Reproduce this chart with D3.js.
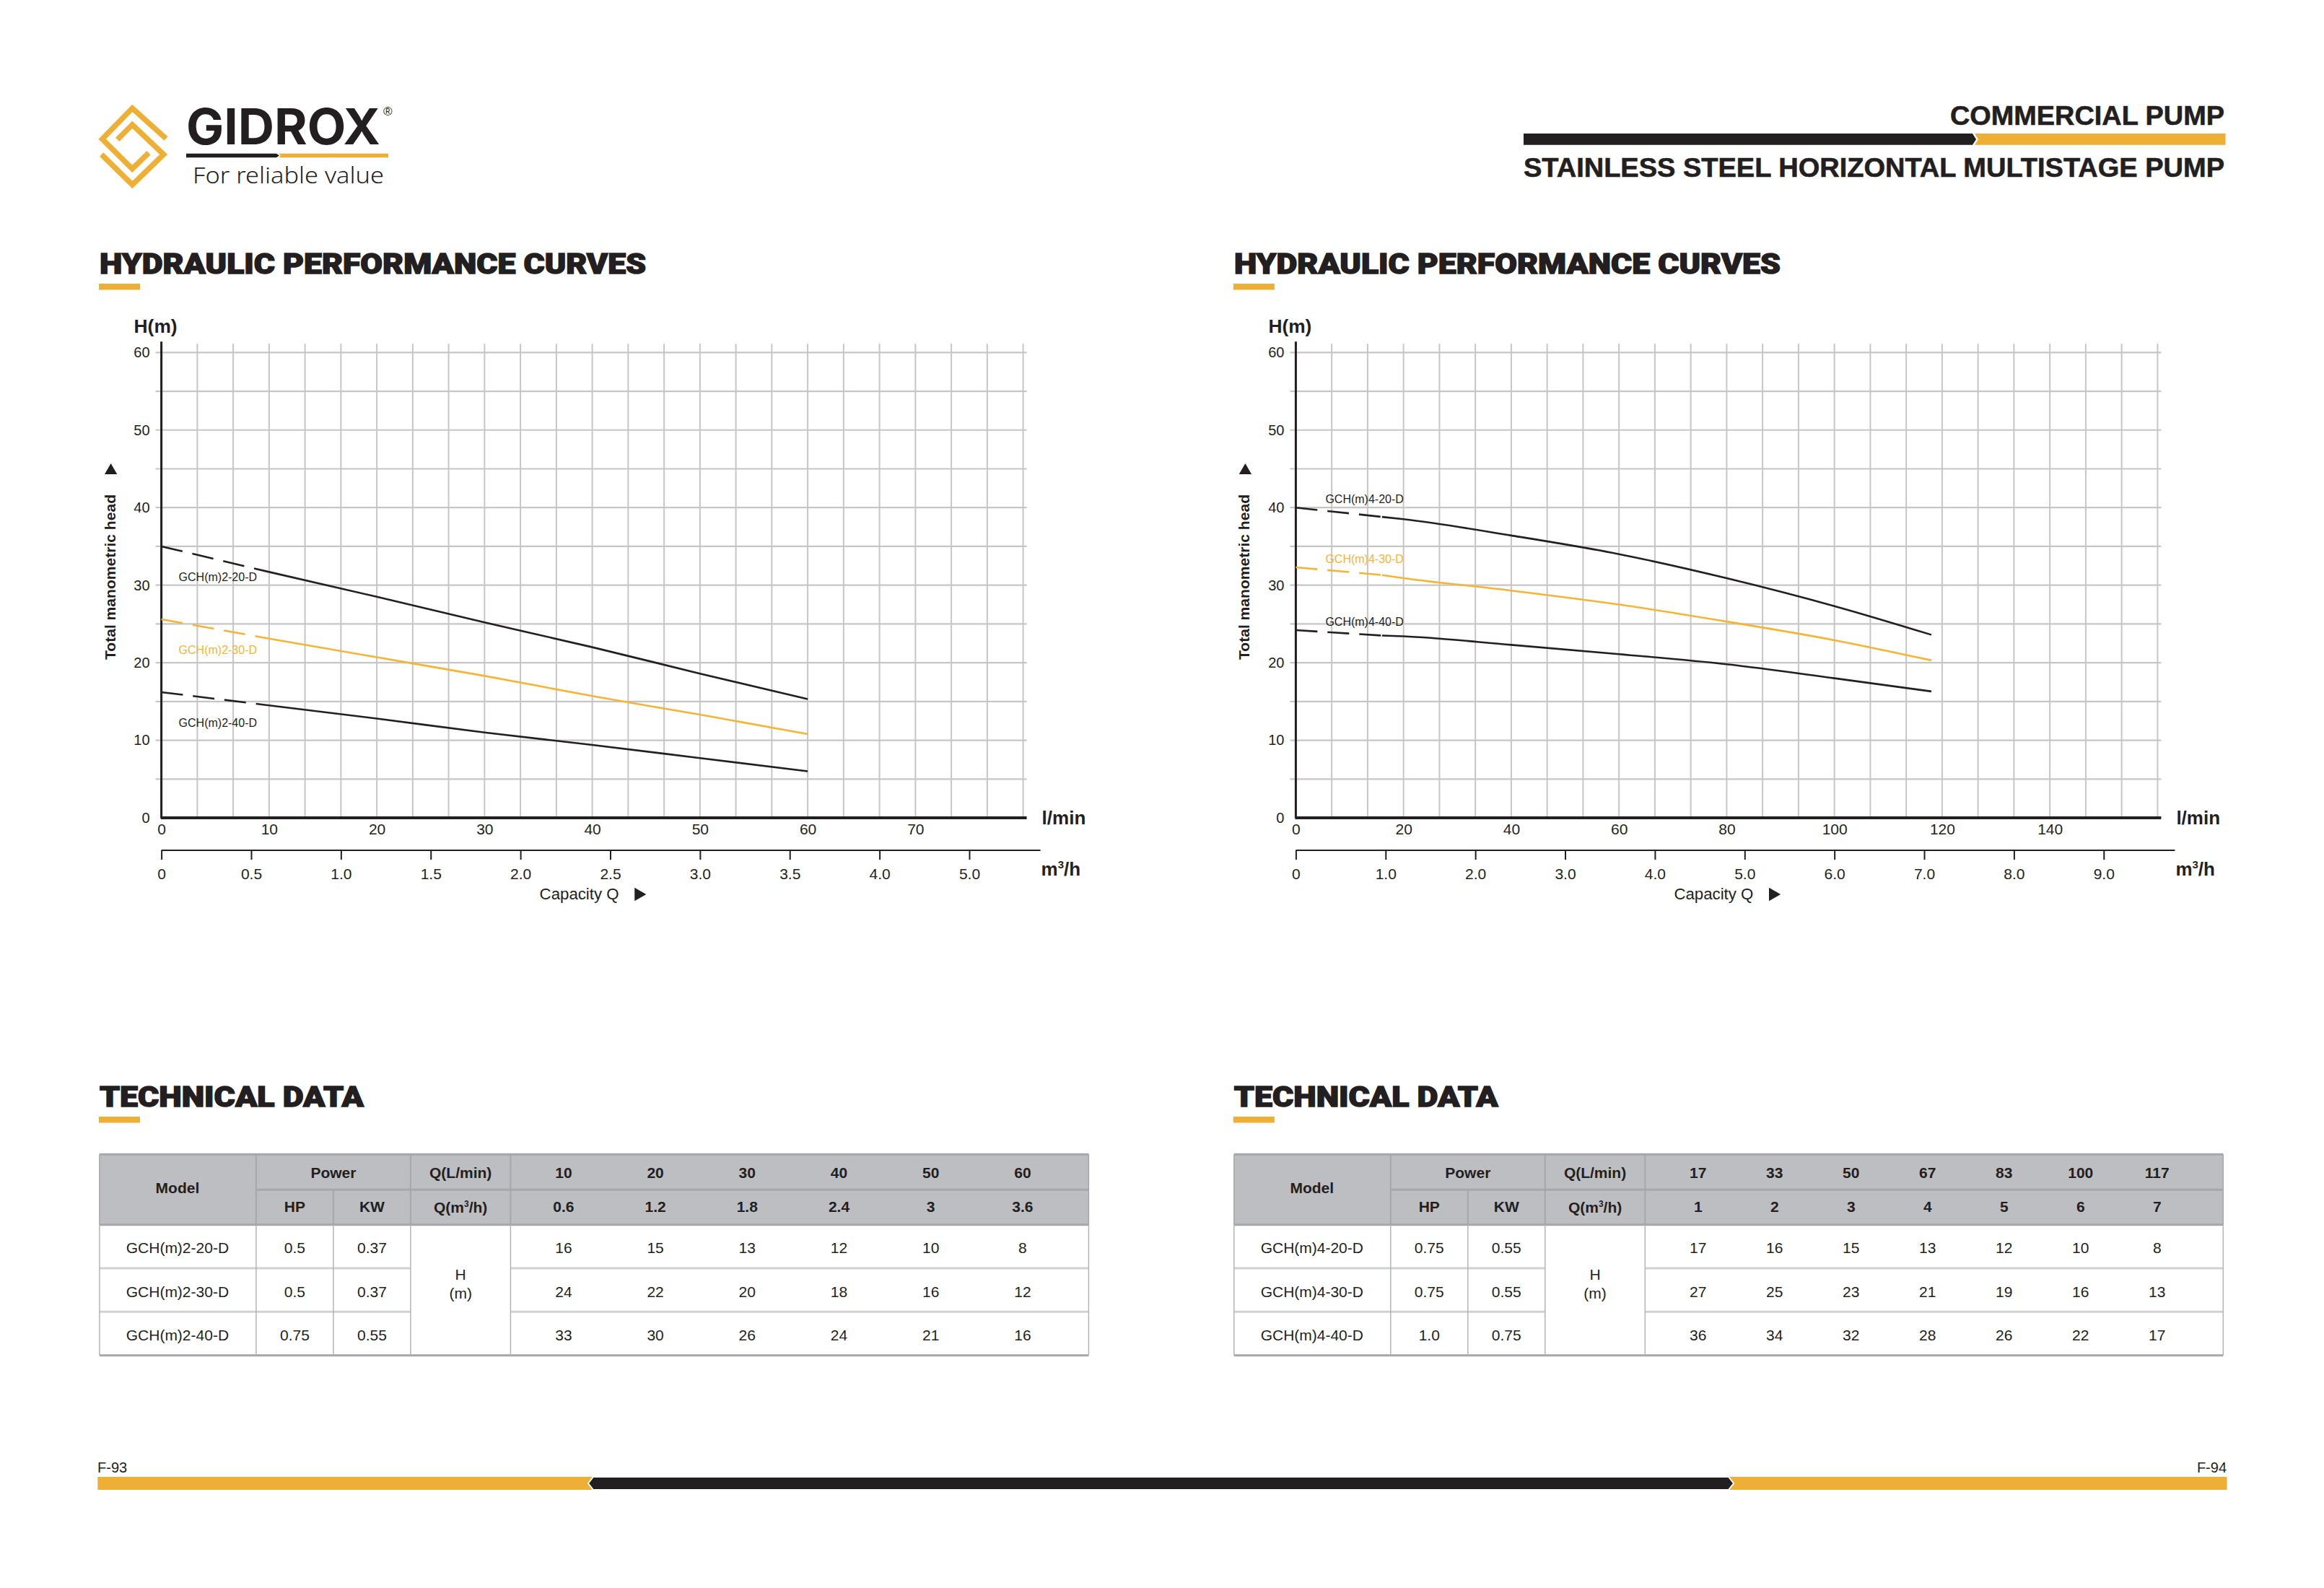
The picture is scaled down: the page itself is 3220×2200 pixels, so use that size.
<!DOCTYPE html>
<html>
<head>
<meta charset="utf-8">
<script src="https://cdn.jsdelivr.net/npm/d3@7"></script>
<style>
  body { margin: 0; background: #fff; }
  text { font-family: "Liberation Sans", Arial, sans-serif; fill: #231f20; }
</style>
</head>
<body>
<svg id="page" width="3220" height="2200"></svg>
<script>
// ---- chart data (read from the catalogue page) ----
var headTicks = [0, 10, 20, 30, 40, 50, 60];

// left page: GCH(m)2 series, flow in l/min, head in m
var flowA = [0, 10, 20, 30, 40, 50, 60];
var modelsA = ["GCH(m)2-20-D", "GCH(m)2-30-D", "GCH(m)2-40-D"];
var headA20 = [35.0, 31.7, 28.5, 25.2, 22.0, 18.6, 15.3];
var headA30 = [25.6, 23.1, 20.7, 18.3, 15.7, 13.3, 10.8];
var headA40 = [16.2, 14.5, 12.8, 11.0, 9.4, 7.7, 6.0];
var lminTicksA = [0, 10, 20, 30, 40, 50, 60, 70];
var m3hTicksA = [0, 0.5, 1.0, 1.5, 2.0, 2.5, 3.0, 3.5, 4.0, 4.5];
var m3hLabelsA = ["0", "0.5", "1.0", "1.5", "2.0", "2.5", "3.0", "3.5", "4.0", "5.0"];

// right page: GCH(m)4 series
var flowB = [0, 16, 20, 40, 60, 80, 100, 118];
var modelsB = ["GCH(m)4-20-D", "GCH(m)4-30-D", "GCH(m)4-40-D"];
var headB20 = [40.0, 38.8, 38.5, 36.4, 34.0, 30.9, 27.3, 23.6];
var headB30 = [32.3, 31.3, 30.9, 29.3, 27.5, 25.3, 22.9, 20.3];
var headB40 = [24.2, 23.5, 23.4, 22.3, 21.1, 19.8, 18.0, 16.3];
var lminTicksB = [0, 20, 40, 60, 80, 100, 120, 140];
var m3hTicksB = [0, 1, 2, 3, 4, 5, 6, 7, 8, 9];
var m3hLabelsB = ["0", "1.0", "2.0", "3.0", "4.0", "5.0", "6.0", "7.0", "8.0", "9.0"];

// technical data tables
var tableLminA = ["10", "20", "30", "40", "50", "60"];
var tableM3hA = ["0.6", "1.2", "1.8", "2.4", "3", "3.6"];
var tableHpA = ["0.5", "0.5", "0.75"];
var tableKwA = ["0.37", "0.37", "0.55"];
var tableHeadA = [[16, 15, 13, 12, 10, 8], [24, 22, 20, 18, 16, 12], [33, 30, 26, 24, 21, 16]];

var tableLminB = ["17", "33", "50", "67", "83", "100", "117"];
var tableM3hB = ["1", "2", "3", "4", "5", "6", "7"];
var tableHpB = ["0.75", "0.75", "1.0"];
var tableKwB = ["0.55", "0.55", "0.75"];
var tableHeadB = [[17, 16, 15, 13, 12, 10, 8], [27, 25, 23, 21, 19, 16, 13], [36, 34, 32, 28, 26, 22, 17]];

var INK = "#231f20", GOLD = "#edb035", LINE_GOLD = "#f4b536", GRID = "#c6c6c6";

var svg = d3.select("#page");
svg.append("rect").attr("width", 3220).attr("height", 2200).attr("fill", "#fff");

// ---- page header ----
// logo mark: two interlocking open diamonds
var logo = svg.append("g").attr("fill", "none").attr("stroke", GOLD)
    .attr("stroke-width", 7.5).attr("stroke-linejoin", "miter");
logo.append("path").attr("d", "M230,192 L183.3,150 L141.7,192.7 L183.3,234 L206,211.7");
logo.append("path").attr("d", "M140.7,214 L183.3,256 L226.7,214 L183.3,172.7 L162.7,193.3");
svg.append("text").attr("x", 258).attr("y", 200).attr("textLength", 269)
    .attr("lengthAdjust", "spacingAndGlyphs")
    .style("font-family", "Inter, 'Open Sans', sans-serif").style("font-weight", 700)
    .style("font-size", "69px").text("GIDROX");
svg.append("text").attr("x", 531).attr("y", 160).style("font-size", "17px").text("®");
svg.append("path").attr("fill", INK).attr("d", "M258,212.7 L383,212.7 L387,215.5 L383,218.3 L258,218.3 Z");
svg.append("path").attr("fill", GOLD).attr("d", "M386,212.7 L538,212.7 L538,218.3 L386,218.3 L389,215.5 Z");
svg.append("text").attr("x", 267).attr("y", 254).attr("textLength", 265)
    .attr("lengthAdjust", "spacingAndGlyphs")
    .style("font-family", "'Noto Sans', sans-serif").style("font-weight", 300)
    .style("font-size", "32px").text("For reliable value");

svg.append("text").attr("x", 3082).attr("y", 173).attr("text-anchor", "end")
    .attr("textLength", 380).attr("lengthAdjust", "spacingAndGlyphs")
    .style("font-weight", 700).style("font-size", "36px")
    .style("stroke", INK).style("stroke-width", 0.6).text("COMMERCIAL  PUMP");
svg.append("path").attr("fill", INK).attr("d", "M2111,185 L2733,185 L2738,193 L2733,200.7 L2111,200.7 Z");
svg.append("path").attr("fill", GOLD).attr("d", "M2736,185 L3083.5,185 L3083.5,200.7 L2736,200.7 L2741,193 Z");
svg.append("text").attr("x", 2111).attr("y", 245).attr("textLength", 971)
    .attr("lengthAdjust", "spacingAndGlyphs")
    .style("font-weight", 700).style("font-size", "37px")
    .style("stroke", INK).style("stroke-width", 0.6)
    .text("STAINLESS STEEL HORIZONTAL  MULTISTAGE  PUMP");

// section heading with gold underline
function heading(x, y, label, len) {
    svg.append("text").attr("x", x).attr("y", y).attr("textLength", len)
        .attr("lengthAdjust", "spacingAndGlyphs")
        .style("font-family", "Roboto, 'Liberation Sans', sans-serif")
        .style("font-weight", 900).style("font-size", "38px")
        .style("stroke", INK).style("stroke-width", 1.4).text(label);
    svg.append("rect").attr("x", x - 1).attr("y", y + 14).attr("width", 57).attr("height", 8.5)
        .attr("fill", GOLD);
}

// ---- performance charts ----
var W = 1194;
var y = d3.scaleLinear().domain([0, 60]).range([1133, 488.3]);

var charts = [
    { ox: 223.6, lminMax: 80, flow: flowA, dashTo: 10, models: modelsA,
      heads: [headA20, headA30, headA40], lminTicks: lminTicksA,
      m3hTicks: m3hTicksA, m3hLabels: m3hLabelsA, labelDx: 24, labelDy: 44 },
    { ox: 1795.4, lminMax: 160, flow: flowB, dashTo: 16, models: modelsB,
      heads: [headB20, headB30, headB40], lminTicks: lminTicksB,
      m3hTicks: m3hTicksB, m3hLabels: m3hLabelsB, labelDx: 41, labelDy: -10 }
];
var seriesColors = [INK, LINE_GOLD, INK];

charts.forEach(function(c) {
    var x = d3.scaleLinear().domain([0, c.lminMax]).range([c.ox, c.ox + W]);
    var xm = d3.scaleLinear().domain([0, c.lminMax * 0.06]).range([c.ox, c.ox + W]);
    var g = svg.append("g");
    var step = c.lminMax * 0.06 / 24;

    heading(c.ox - 85.5, 379, "HYDRAULIC PERFORMANCE CURVES", 757);

    // grid
    g.selectAll(".vgrid").data(d3.range(1, 25).map(function(i) { return i * step; }))
        .enter().append("line")
        .attr("x1", function(d) { return xm(d); }).attr("x2", function(d) { return xm(d); })
        .attr("y1", y(60) - 12).attr("y2", y(0))
        .attr("stroke", GRID).attr("stroke-width", 2);
    g.selectAll(".hgrid").data(d3.range(5, 61, 5)).enter().append("line")
        .attr("x1", c.ox - 8).attr("x2", c.ox + W + 5)
        .attr("y1", function(d) { return y(d); }).attr("y2", function(d) { return y(d); })
        .attr("stroke", GRID).attr("stroke-width", 2.2);

    // y axis
    var yAxis = g.append("g").attr("transform", "translate(" + c.ox + ",0)")
        .call(d3.axisLeft(y).tickValues(headTicks).tickSize(0).tickPadding(16));
    yAxis.select(".domain").remove();
    yAxis.selectAll("text").style("font-size", "20px").attr("fill", INK);
    g.append("line").attr("x1", c.ox).attr("x2", c.ox).attr("y1", y(0)).attr("y2", y(60) - 15)
        .attr("stroke", INK).attr("stroke-width", 3);

    // l/min axis
    var xAxis = g.append("g").attr("transform", "translate(0," + y(0) + ")")
        .call(d3.axisBottom(x).tickValues(c.lminTicks).tickSize(0).tickPadding(8));
    xAxis.select(".domain").remove();
    xAxis.selectAll("text").style("font-size", "21px").attr("fill", INK);
    g.append("line").attr("x1", c.ox - 1).attr("x2", c.ox + W + 5).attr("y1", y(0)).attr("y2", y(0))
        .attr("stroke", INK).attr("stroke-width", 4);
    g.append("text").attr("x", c.ox + 1220).attr("y", y(0) + 9)
        .style("font-size", "26px").style("font-weight", 700).text("l/min");

    // m3/h axis
    var mAxis = g.append("g").attr("transform", "translate(0,1178)")
        .call(d3.axisBottom(xm).tickValues(c.m3hTicks).tickSize(13).tickPadding(12)
            .tickFormat(function(d, i) { return c.m3hLabels[i]; }));
    mAxis.select(".domain").remove();
    mAxis.selectAll("line").attr("stroke", INK).attr("stroke-width", 2);
    mAxis.selectAll("text").style("font-size", "21px").attr("fill", INK);
    g.append("line").attr("x1", c.ox).attr("x2", c.ox + W + 24).attr("y1", 1178).attr("y2", 1178)
        .attr("stroke", INK).attr("stroke-width", 2);
    var unit = g.append("text").attr("x", c.ox + 1219).attr("y", 1213)
        .style("font-size", "26px").style("font-weight", 700);
    unit.append("tspan").text("m");
    unit.append("tspan").attr("dy", -10).style("font-size", "15px").text("3");
    unit.append("tspan").attr("dy", 10).text("/h");

    // axis titles
    g.append("text").attr("x", c.ox - 38).attr("y", 461).attr("textLength", 60)
        .attr("lengthAdjust", "spacingAndGlyphs")
        .style("font-size", "25px").style("font-weight", 700).text("H(m)");
    g.append("text").attr("transform", "translate(" + (c.ox - 64) + ",799.5) rotate(-90)")
        .attr("text-anchor", "middle").attr("textLength", 229).attr("lengthAdjust", "spacingAndGlyphs")
        .style("font-size", "21px").style("font-weight", 700).text("Total manometric head");
    g.append("path").attr("d", d3.symbol(d3.symbolTriangle).size(130)())
        .attr("transform", "translate(" + (c.ox - 70) + ",652)").attr("fill", INK);
    g.append("text").attr("x", c.ox + 524).attr("y", 1246).attr("textLength", 110)
        .attr("lengthAdjust", "spacingAndGlyphs").style("font-size", "22px").text("Capacity  Q");
    g.append("path").attr("d", d3.symbol(d3.symbolTriangle).size(150)())
        .attr("transform", "translate(" + (c.ox + 661) + ",1239) rotate(90)").attr("fill", INK);

    // curves: dashed below the first duty point, solid after it
    var line = d3.line()
        .x(function(d) { return x(d[0]); })
        .y(function(d) { return y(d[1]); })
        .curve(d3.curveMonotoneX);
    c.heads.forEach(function(h, k) {
        var pts = c.flow.map(function(q, i) { return [q, h[i]]; });
        var dashed = pts.filter(function(p) { return p[0] <= c.dashTo; });
        var solid = pts.filter(function(p) { return p[0] >= c.dashTo; });
        g.append("path").datum(dashed).attr("d", line).attr("fill", "none")
            .attr("stroke", seriesColors[k]).attr("stroke-width", 2.6)
            .attr("stroke-dasharray", "30,14");
        g.append("path").datum(solid).attr("d", line).attr("fill", "none")
            .attr("stroke", seriesColors[k]).attr("stroke-width", 2.6);
        g.append("text").attr("x", c.ox + c.labelDx).attr("y", y(h[0]) + c.labelDy)
            .attr("dominant-baseline", "middle")
            .style("font-size", "16px").style("fill", seriesColors[k])
            .text(c.models[k]);
    });
});

// ---- technical data tables ----
var tables = [
    { x0: 137.9, models: modelsA, hp: tableHpA, kw: tableKwA, lmin: tableLminA, m3h: tableM3hA, heads: tableHeadA },
    { x0: 1709.8, models: modelsB, hp: tableHpB, kw: tableKwB, lmin: tableLminB, m3h: tableM3hB, heads: tableHeadB }
];

tables.forEach(function(t) {
    var x0 = t.x0, xHP = x0 + 217, xKW = x0 + 324, xQ = x0 + 431, xV = x0 + 569.5, xR = x0 + 1370.5;
    var yT = 1599.3, yM = 1648.3, yH = 1696.7, rowH = 60.33, yB = yH + 3 * rowH;
    var HL = "#a6a7aa";
    var vx = d3.scalePoint().domain(d3.range(t.lmin.length)).range([x0 + 643, x0 + 1279]);
    var g = svg.append("g");

    heading(x0, 1533, "TECHNICAL DATA", 366);

    g.append("rect").attr("x", x0).attr("y", yT).attr("width", xR - x0).attr("height", yH - yT)
        .attr("fill", "#bdbec1");
    function hl(x1, x2, yy, col, w) {
        g.append("line").attr("x1", x1).attr("x2", x2).attr("y1", yy).attr("y2", yy)
            .attr("stroke", col).attr("stroke-width", w);
    }
    function vl(xx, y1, y2, col, w) {
        g.append("line").attr("x1", xx).attr("x2", xx).attr("y1", y1).attr("y2", y2)
            .attr("stroke", col).attr("stroke-width", w);
    }
    hl(x0, xR, yT, HL, 3);
    hl(xHP, xR, yM, HL, 3);
    hl(x0, xR, yH, HL, 3);
    [1, 2].forEach(function(i) {
        hl(x0, xQ, yH + i * rowH, "#d0d1d3", 3);
        hl(xV, xR, yH + i * rowH, "#d0d1d3", 3);
    });
    hl(x0, xR, yB, HL, 3);
    [xHP, xQ, xV].forEach(function(xx) { vl(xx, yT, yH, HL, 2); });
    vl(xKW, yM, yH, HL, 2);
    [x0, xHP, xKW, xQ, xV, xR].forEach(function(xx) { vl(xx, yH, yB, "#b4b4b6", 1.5); });
    vl(x0, yT, yH, HL, 1.5);
    vl(xR, yT, yH, HL, 1.5);

    function cell(xx, yy, s, bold) {
        g.append("text").attr("x", xx).attr("y", yy).attr("text-anchor", "middle")
            .attr("dominant-baseline", "middle")
            .style("font-size", "21px").style("font-weight", bold ? 700 : 400).text(s);
    }
    cell(x0 + 108, 1647, "Model", true);
    cell((xHP + xQ) / 2, 1626, "Power", true);
    cell((xQ + xV) / 2, 1626, "Q(L/min)", true);
    cell((xHP + xKW) / 2, 1673, "HP", true);
    cell((xKW + xQ) / 2, 1673, "KW", true);
    g.append("text").attr("x", (xQ + xV) / 2).attr("y", 1680).attr("text-anchor", "middle")
        .style("font-size", "21px").style("font-weight", 700)
        .html('Q(m<tspan dy="-8" font-size="12">3</tspan><tspan dy="8">/h)</tspan>');
    t.lmin.forEach(function(s, i) { cell(vx(i), 1626, s, true); });
    t.m3h.forEach(function(s, i) { cell(vx(i), 1673, s, true); });

    t.models.forEach(function(m, r) {
        var cy = yH + rowH * (r + 0.5) + 4;
        cell(x0 + 108, cy, m, false);
        cell((xHP + xKW) / 2, cy, t.hp[r], false);
        cell((xKW + xQ) / 2, cy, t.kw[r], false);
        t.heads[r].forEach(function(v, i) { cell(vx(i), cy, v, false); });
    });
    cell((xQ + xV) / 2, 1767, "H", false);
    cell((xQ + xV) / 2, 1793, "(m)", false);
});

// ---- footer ----
svg.append("text").attr("x", 135).attr("y", 2040).style("font-size", "20px").text("F-93");
svg.append("text").attr("x", 3085).attr("y", 2040).attr("text-anchor", "end")
    .style("font-size", "20px").text("F-94");
svg.append("rect").attr("x", 135.3).attr("y", 2046).attr("width", 690).attr("height", 18).attr("fill", GOLD);
svg.append("rect").attr("x", 2396).attr("y", 2046).attr("width", 689.5).attr("height", 18).attr("fill", GOLD);
svg.append("path").attr("fill", INK).attr("stroke", "#fff").attr("stroke-width", 2)
    .attr("d", "M815,2055 L822,2046 L2395,2046 L2402,2055 L2395,2064 L822,2064 Z");
</script>
</body>
</html>
